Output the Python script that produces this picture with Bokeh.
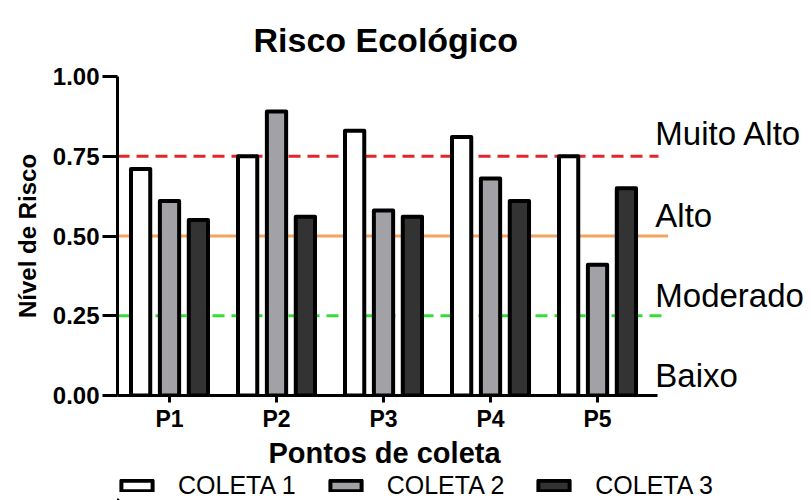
from bokeh.plotting import figure
from bokeh.layouts import column
from bokeh.models import Range1d, FixedTicker, Legend, LegendItem, ColumnDataSource, NumeralTickFormatter, Title
from bokeh.core.properties import value
from bokeh.transform import dodge
from bokeh.embed import file_html
from bokeh.resources import INLINE

# ---- data ----
pontos = ["P1", "P2", "P3", "P4", "P5"]
coleta1 = [0.71, 0.75, 0.83, 0.81, 0.75]
coleta2 = [0.61, 0.89, 0.58, 0.68, 0.41]
coleta3 = [0.55, 0.56, 0.56, 0.61, 0.65]
series_names = ["COLETA 1", "COLETA 2", "COLETA 3"]
limiares = [0.75, 0.50, 0.25]
classes = ["Muito Alto", "Alto", "Moderado", "Baixo"]
y_ticks = [0.0, 0.25, 0.50, 0.75, 1.00]

# ---- layout constants ----
FONT = "Liberation Sans"
pos = list(range(1, len(pontos) + 1))
x_lo, x_hi = 0.514, 6.925
axis_end = 5.56
limiar_end = [5.57, 5.66, 5.64]
limiar_colors = ["#e3262b", "#f4a45e", "#35dd35"]
limiar_dash = ["12 7", "solid", "12 7"]
class_x = 5.54
class_y = [0.82, 0.565, 0.315, 0.063]
fills = ["#ffffff", "#a2a2a6", "#333333"]
offsets = [-0.27, 0.0, 0.27]
proxy_x, proxy_top = [-5.0], [0.0]   # hidden legend proxies, outside the strip's range

src = ColumnDataSource(dict(x=pos, c1=coleta1, c2=coleta2, c3=coleta3))

p = figure(frame_width=686, frame_height=319,
           x_range=Range1d(x_lo, x_hi), y_range=Range1d(0, 1.0),
           output_backend="svg", toolbar_location=None,
           min_border_left=117, min_border_right=0,
           min_border_top=76, min_border_bottom=73)

p.title.text = "Risco Ecológico"
p.title.text_font = FONT
p.title.text_font_size = "34px"
p.title.text_font_style = "bold"
p.title.text_color = "black"
p.title.align = "left"
p.title.offset = 136
p.title.standoff = 36

p.grid.visible = False
p.outline_line_color = None

for ax in [p.xaxis[0], p.yaxis[0]]:
    ax.axis_line_width = 3
    ax.major_tick_line_width = 3
    ax.minor_tick_line_color = None
    ax.major_tick_in = 0
    ax.major_label_text_font = FONT
    ax.major_label_text_font_style = "bold"
    ax.major_label_text_color = "black"
    ax.axis_label_text_font = FONT
    ax.axis_label_text_font_style = "bold"
    ax.axis_label_text_color = "black"

p.xaxis.ticker = FixedTicker(ticks=pos)
p.xaxis.major_label_overrides = {k: v for k, v in zip(pos, pontos)}
p.xaxis.bounds = (x_lo, axis_end)
p.xaxis.major_tick_out = 7
p.xaxis.major_label_standoff = 3
p.xaxis.major_label_text_font_size = "23px"

p.yaxis.ticker = FixedTicker(ticks=y_ticks)
p.yaxis.formatter = NumeralTickFormatter(format="0.00")
p.yaxis.major_tick_out = 15
p.yaxis.major_label_standoff = 3
p.yaxis.major_label_text_font_size = "24px"
p.yaxis.axis_label = "Nível de Risco"
p.yaxis.axis_label_text_font_size = "24px"
p.yaxis.axis_label_standoff = 9

xlabel = Title(text="Pontos de coleta", align="left", offset=151,
               text_font=FONT, text_font_size="29px", text_font_style="bold",
               text_color="black", standoff=0)
p.add_layout(xlabel, "below")

# threshold lines
for yv, xe, col, dash in zip(limiares, limiar_end, limiar_colors, limiar_dash):
    p.line(x=[x_lo, xe], y=[yv, yv], line_color=col, line_width=3, line_dash=dash)

# bars
for key, off, fc in zip(["c1", "c2", "c3"], offsets, fills):
    p.vbar(x=dodge("x", off), top=key, width=0.18, bottom=0, source=src,
           fill_color=fc, line_color="black", line_width=4, line_join="round")

# class labels
p.text(x=[class_x] * len(classes), y=class_y, text=classes,
       text_font=value(FONT), text_font_size="33px", text_color="black",
       text_baseline="middle", text_align="left")

# legend strip (own small figure so that it is not clipped)
q = figure(width=803, height=32, min_border=0, toolbar_location=None,
           output_backend="svg", x_axis_location=None, y_axis_location=None,
           x_range=Range1d(0, 1), y_range=Range1d(0, 1))
q.grid.visible = False
q.outline_line_color = None
leg_renderers = []
for fc in fills:
    r = q.vbar(x=proxy_x, top=proxy_top, width=0.1, fill_color=fc, line_color="black",
               line_width=4, line_join="round")
    leg_renderers.append(r)

legend = Legend(items=[LegendItem(label=n, renderers=[r]) for n, r in zip(series_names, leg_renderers)],
                orientation="horizontal", location=(0, 0),
                glyph_width=39, glyph_height=13, label_standoff=22, spacing=30,
                padding=0, margin=0, border_line_color=None, background_fill_alpha=0,
                label_text_font=FONT, label_text_font_size="25px",
                label_text_color="black")
q.add_layout(legend, "center")

layout = column(p, q, spacing=0)
open("out.html", "w").write(file_html(layout, INLINE))
